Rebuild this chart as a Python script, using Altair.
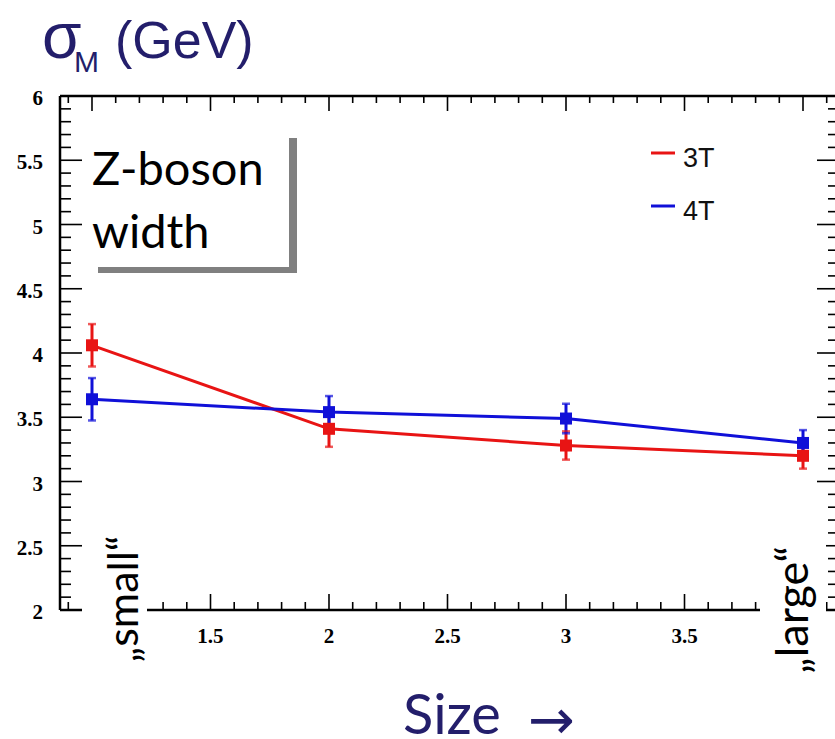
import altair as alt
import pandas as pd

# ---- measured values -------------------------------------------------------
size_index = [1, 2, 3, 4]
series_names = ["3T", "4T"]
series_colors = ["#e81414", "#1010d8"]
sigma_3t = [4.06, 3.41, 3.28, 3.20]
err_3t = [0.165, 0.14, 0.11, 0.10]
sigma_4t = [3.64, 3.54, 3.49, 3.30]
err_4t = [0.165, 0.125, 0.115, 0.10]

x_tick_labels = [1.5, 2, 2.5, 3, 3.5]
y_tick_labels = [2, 2.5, 3, 3.5, 4, 4.5, 5, 5.5, 6]

# ---- plot frame geometry ---------------------------------------------------
W, H = 775, 514
X_DOMAIN = [0.865, 4.135]
Y_DOMAIN = [2, 6]
NAVY = "#231e6b"

xs = alt.Scale(domain=X_DOMAIN, nice=False, zero=False)
ys = alt.Scale(domain=Y_DOMAIN, nice=False, zero=False)
cs = alt.Scale(domain=series_names, range=series_colors)


def X(field):
    return alt.X(field, scale=xs, axis=None)


def Y(field):
    return alt.Y(field, scale=ys, axis=None)


rows = []
for name, vals, errs in [("3T", sigma_3t, err_3t), ("4T", sigma_4t, err_4t)]:
    for xi, v, e in zip(size_index, vals, errs):
        rows.append({"size": xi, "sigma": v, "lo": v - e, "hi": v + e, "series": name})
points = pd.DataFrame(rows)

# tick positions of the ROOT-style frame (major every 0.5, minor every 0.1)
x_major = pd.DataFrame({"size": [1, 1.5, 2, 2.5, 3, 3.5, 4]})
x_minor = pd.DataFrame({"size": [round(0.9 + 0.1 * i, 1) for i in range(33)
                                 if round((0.9 + 0.1 * i) * 2, 6) % 1 != 0]})
y_major = pd.DataFrame({"sigma": y_tick_labels})
y_minor = pd.DataFrame({"sigma": [round(2 + 0.1 * i, 1) for i in range(1, 40)
                                  if round((2 + 0.1 * i) * 2, 6) % 1 != 0]})
x_labels = pd.DataFrame({"size": x_tick_labels,
                         "lab": [f"{v:g}" for v in x_tick_labels]})
y_labels = pd.DataFrame({"sigma": y_tick_labels,
                         "lab": [f"{v:g}" for v in y_tick_labels]})

one = alt.Data(values=[{}])


def rule(**enc):
    return alt.Chart(one).mark_rule(color="black", strokeWidth=2.5).encode(**enc)


def box(x, x2, y, y2, color):
    return alt.Chart(one).mark_rect(color=color).encode(
        x=alt.value(x), x2=alt.value(x2), y=alt.value(y), y2=alt.value(y2))


def label(text, x, y, size, font, color="black", angle=0, align="left"):
    return alt.Chart(one).mark_text(
        text=text, font=font, fontSize=size, color=color, angle=angle,
        align=align, baseline="alphabetic").encode(x=alt.value(x), y=alt.value(y))


base = alt.Chart(points)
color = alt.Color("series:N", scale=cs, legend=None)

frame = [
    rule(x=alt.value(0), y=alt.value(0), y2=alt.value(H)),
    rule(y=alt.value(0), x=alt.value(0), x2=alt.value(W)),
    rule(y=alt.value(H), x=alt.value(0), x2=alt.value(W)),
]


def xticks(df, y, y2):
    return alt.Chart(df).mark_rule(color="black", strokeWidth=1.6).encode(
        x=X("size:Q"), y=alt.value(y), y2=alt.value(y2))


def yticks(df, x, x2):
    return alt.Chart(df).mark_rule(color="black", strokeWidth=1.6).encode(
        y=Y("sigma:Q"), x=alt.value(x), x2=alt.value(x2))


ticks = [
    xticks(x_major, H, H - 16), xticks(x_minor, H, H - 8),
    xticks(x_major, 0, 15), xticks(x_minor, 0, 7),
    yticks(y_major, 0, 22), yticks(y_minor, 0, 11),
    yticks(y_major, W - 18, W), yticks(y_minor, W - 7, W),
]

# tick labels (bold serif, ROOT default look)
tick_labels = [
    alt.Chart(x_labels).mark_text(
        font="Liberation Serif", fontWeight="bold", fontSize=21, color="black",
        baseline="middle", align="center").encode(
        x=X("size:Q"), y=alt.value(H + 27), text="lab:N"),
    alt.Chart(y_labels).mark_text(
        font="Liberation Serif", fontWeight="bold", fontSize=21, color="black",
        baseline="middle", align="right", dy=3).encode(
        y=Y("sigma:Q"), x=alt.value(-17), text="lab:N"),
]

# white backing behind the rotated end labels, grey shadow of the caption box
backs = [
    box(22, 87, 434, 574, "white"),
    box(700, 766, 439, 594, "white"),
    box(229, 237, 42, 177, "#808080"),
    box(38, 237, 171, 177, "#808080"),
]

lines = base.mark_line(strokeWidth=3).encode(
    x=X("size:Q"), y=Y("sigma:Q"), color=color, order="size:Q")
errbars = base.mark_rule(strokeWidth=3).encode(
    x=X("size:Q"), y=Y("lo:Q"), y2="hi:Q", color=color)
caps_hi = base.mark_tick(orient="horizontal", size=8, thickness=2.5).encode(
    x=X("size:Q"), y=Y("hi:Q"), color=color)
caps_lo = base.mark_tick(orient="horizontal", size=8, thickness=2.5).encode(
    x=X("size:Q"), y=Y("lo:Q"), color=color)
markers = base.mark_square(size=144, opacity=1).encode(
    x=X("size:Q"), y=Y("sigma:Q"), color=color)

# legend (top right, inside the frame)
legend = [
    alt.Chart(one).mark_rule(color=series_colors[0], strokeWidth=3).encode(
        x=alt.value(591), x2=alt.value(615), y=alt.value(57)),
    alt.Chart(one).mark_rule(color=series_colors[1], strokeWidth=3).encode(
        x=alt.value(591), x2=alt.value(615), y=alt.value(110)),
    label(series_names[0], 623, 71, 27, "Liberation Sans", "#111111"),
    label(series_names[1], 623, 124, 27, "Liberation Sans", "#111111"),
]

texts = [
    label("σ", -18, -38, 64, "Liberation Sans", NAVY),
    label("M", 14, -24, 30, "Liberation Sans", NAVY),
    label("(GeV)", 55, -38, 52, "Liberation Sans", NAVY),
    label("Z-boson", 32, 89, 47, "Lato"),
    label("width", 32, 152, 47, "Lato"),
    label("„small“", 78, 503, 43, "Lato", angle=270, align="center"),
    label("„large“", 748, 514, 45, "Lato", angle=270, align="center"),
    label("Size", 343, 638, 56, "Lato", NAVY),
    label("→", 468, 643, 56, "DejaVu Sans", NAVY),
]

chart = alt.layer(
    lines, *frame, *ticks, *tick_labels, *backs, errbars, caps_hi, caps_lo,
    markers, *legend, *texts
).properties(
    width=W, height=H,
    autosize=alt.AutoSizeParams(type="none"),
    padding={"left": 60, "top": 96, "right": 0, "bottom": 129},
    background="white",
).configure_view(strokeWidth=0)

chart.save("out.html", embed_options={"renderer": "svg", "actions": False})
